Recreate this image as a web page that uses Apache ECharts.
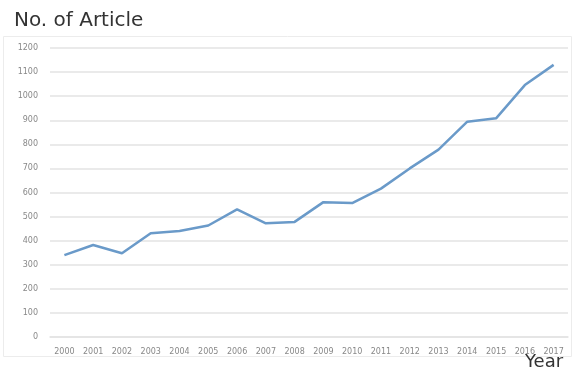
<!DOCTYPE html>
<html>
<head>
<meta charset="utf-8">
<script src="https://cdn.jsdelivr.net/npm/echarts@6/dist/echarts.min.js"></script>
<style>
  html, body { margin: 0; padding: 0; background: #fff; }
  #chart { width: 578px; height: 372px; }
</style>
</head>
<body>
<div id="chart"></div>
<script>
// Articles published per year
const years = ['2000','2001','2002','2003','2004','2005','2006','2007','2008',
               '2009','2010','2011','2012','2013','2014','2015','2016','2017'];
const articles = [340, 382, 348, 431, 440, 463, 530, 472, 478,
                  560, 556, 616, 700, 778, 894, 908, 1046, 1130];
const yTicks = { min: 0, max: 1200, step: 100 };

const chart = echarts.init(document.getElementById('chart'));
chart.setOption({
  backgroundColor: '#fff',
  animation: false,
  graphic: [
    { type: 'rect', shape: { x: 3.5, y: 36.5, width: 568, height: 320 },
      style: { fill: 'none', stroke: '#ececec', lineWidth: 1 }, z: -1 },
    { type: 'text', left: 14, top: 11,
      style: { text: 'No. of Article', fontFamily: 'DejaVu Sans', fontSize: 20, fill: '#333' } },
    { type: 'text', left: 525, top: 353,
      style: { text: 'Year', fontFamily: 'DejaVu Sans', fontSize: 18, fill: '#333' } }
  ],
  grid: { left: 50, right: 10, top: 48, bottom: 35, containLabel: false },
  xAxis: {
    type: 'category',
    data: years,
    boundaryGap: true,
    axisLine: { show: true, lineStyle: { color: '#e3e3e3', width: 1.5 } },
    axisTick: { show: false },
    axisLabel: { color: '#888', fontSize: 8, fontFamily: 'DejaVu Sans', margin: 11, interval: 0 }
  },
  yAxis: {
    type: 'value',
    min: yTicks.min, max: yTicks.max, interval: yTicks.step,
    axisLine: { show: false },
    axisTick: { show: false },
    axisLabel: { color: '#888', fontSize: 8, fontFamily: 'DejaVu Sans', margin: 12,
                 formatter: v => String(v) },
    splitLine: { lineStyle: { color: '#e3e3e3', width: 1.5 } }
  },
  series: [{
    type: 'line',
    data: articles,
    symbol: 'none',
    lineStyle: { color: '#6a9ac9', width: 2.5 }
  }]
});
</script>
</body>
</html>
